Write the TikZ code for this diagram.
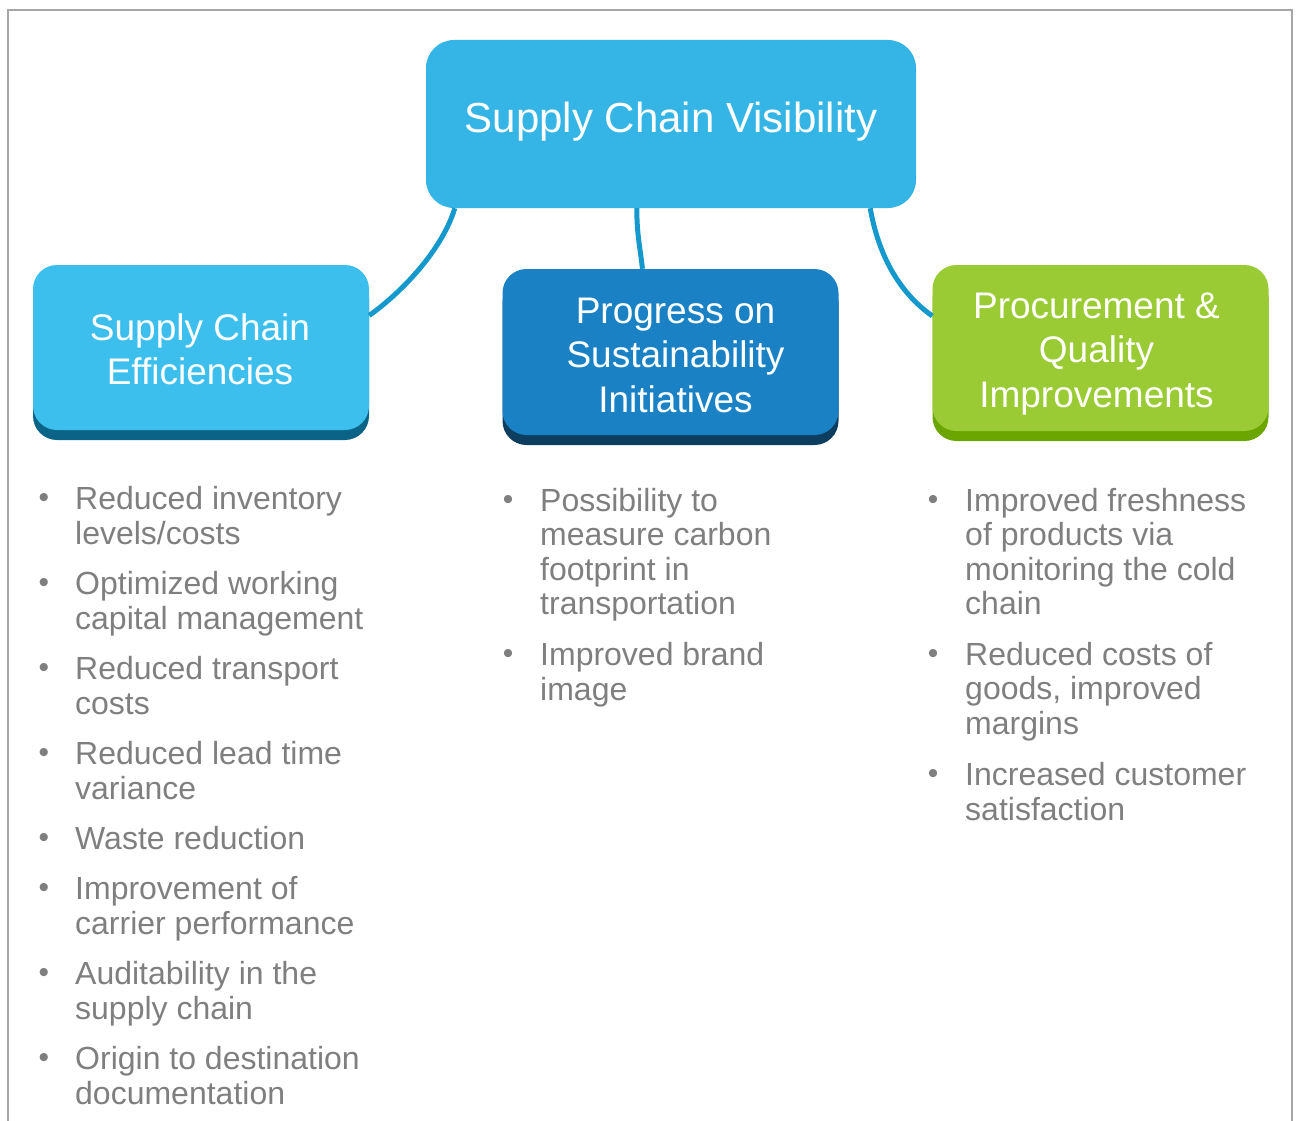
\documentclass[tikz,border=0pt]{standalone}
\usepackage{fontspec}
\setmainfont{Liberation Sans}
\usetikzlibrary{shadows}

\definecolor{topfill}{HTML}{35B5E5}
\definecolor{leftfill}{HTML}{3DBFEE}
\definecolor{leftshade}{HTML}{0B6487}
\definecolor{midfill}{HTML}{1A82C4}
\definecolor{midshade}{HTML}{0D3D5F}
\definecolor{rightfill}{HTML}{9ACB34}
\definecolor{rightshade}{HTML}{6BA500}
\definecolor{linkcol}{HTML}{1599CD}
\definecolor{framecol}{HTML}{A6A6A6}
\definecolor{bodytext}{HTML}{7F7F7F}

\tikzset{
  headbox/.style={rounded corners=24pt, inner sep=0pt, minimum width=336pt},
  headtext/.style={inner sep=0pt, text=white, align=center,
    font=\fontsize{37}{44.5}\selectfont},
  branch/.style={line width=5pt, linkcol},
  bodyitem/.style={inner sep=0pt, anchor=base west, align=left, text=bodytext,
    font=\fontsize{32}{34.5}\selectfont},
  dot/.style={inner sep=0pt, text=bodytext, font=\fontsize{30}{30}\selectfont}
}

\begin{document}
\begin{tikzpicture}[x=1pt,y=-1pt]
\useasboundingbox (0,0) rectangle (1296,1121);
\draw[framecol,line width=2.5pt] (8,1125) -- (8,10) -- (1292,10) -- (1292,1125);

% main box
\node[headbox, fill=topfill, rounded corners=28pt, minimum width=490pt, minimum height=168pt] (visib) at (671,124) {};
\node[headtext, font=\fontsize{42}{50}\selectfont] (visib-t) at ([yshift=2pt]visib.center) {Supply Chain Visibility};

% three branches
\node[headbox, fill=leftfill, minimum height=165pt,
  general shadow={fill=leftshade, shadow yshift=-10pt}] (effic) at (201,347.5) {};
\node[headtext] (effic-t) at ([shift={(-1pt,-2pt)}]effic.center) {Supply Chain\\Efficiencies};
\node[headbox, fill=midfill, minimum height=166pt,
  general shadow={fill=midshade, shadow yshift=-10pt}] (sustain) at (670.5,352) {};
\node[headtext] (sustain-t) at ([shift={(5pt,-3pt)}]sustain.center) {Progress on\\Sustainability\\Initiatives};
\node[headbox, fill=rightfill, minimum height=166pt,
  general shadow={fill=rightshade, shadow yshift=-10pt}] (procure) at (1100.5,348) {};
\node[headtext] (procure-t) at ([shift={(-4pt,-6pt)}]procure.center) {Procurement \&\\Quality\\Improvements};

\draw[branch] ([xshift=29pt]visib.south west) .. controls +(-12,40) and +(35,-25) .. ([yshift=32pt]effic.east);
\draw[branch] ([xshift=211pt]visib.south west) .. controls +(0,25) and +(-3,-25) .. ([xshift=-28pt]sustain.north);
\draw[branch] ([xshift=-46pt]visib.south east) .. controls +(8,45) and +(-35,-25) .. ([yshift=32pt]procure.west);

% left list
\node[dot] (e1) at (44,500) {•};
\node[bodyitem] (et1) at (75,544) {Reduced inventory\\levels/costs};
\node[dot] (e2) at (44,585) {•};
\node[bodyitem] (et2) at (75,629) {Optimized working\\capital management};
\node[dot] (e3) at (44,670) {•};
\node[bodyitem] (et3) at (75,714) {Reduced transport\\costs};
\node[dot] (e4) at (44,755) {•};
\node[bodyitem] (et4) at (75,799) {Reduced lead time\\variance};
\node[dot] (e5) at (44,840) {•};
\node[bodyitem] (et5) at (75,849.5) {Waste reduction};
\node[dot] (e6) at (44,890) {•};
\node[bodyitem] (et6) at (75,934) {Improvement of\\carrier performance};
\node[dot] (e7) at (44,975) {•};
\node[bodyitem] (et7) at (75,1019) {Auditability in the\\supply chain};
\node[dot] (e8) at (44,1060) {•};
\node[bodyitem] (et8) at (75,1104) {Origin to destination\\documentation};

% middle list
\node[dot] (s1) at (508,502) {•};
\node[bodyitem] (st1) at (540,614.5) {Possibility to\\measure carbon\\footprint in\\transportation};
\node[dot] (s2) at (508,656) {•};
\node[bodyitem] (st2) at (540,700) {Improved brand\\image};

% right list
\node[dot] (p1) at (933,502) {•};
\node[bodyitem] (pt1) at (965,614.5) {Improved freshness\\of products via\\monitoring the cold\\chain};
\node[dot] (p2) at (933,656) {•};
\node[bodyitem] (pt2) at (965,734) {Reduced costs of\\goods, improved\\margins};
\node[dot] (p3) at (933,776) {•};
\node[bodyitem] (pt3) at (965,820) {Increased customer\\satisfaction};
\end{tikzpicture}
\end{document}
